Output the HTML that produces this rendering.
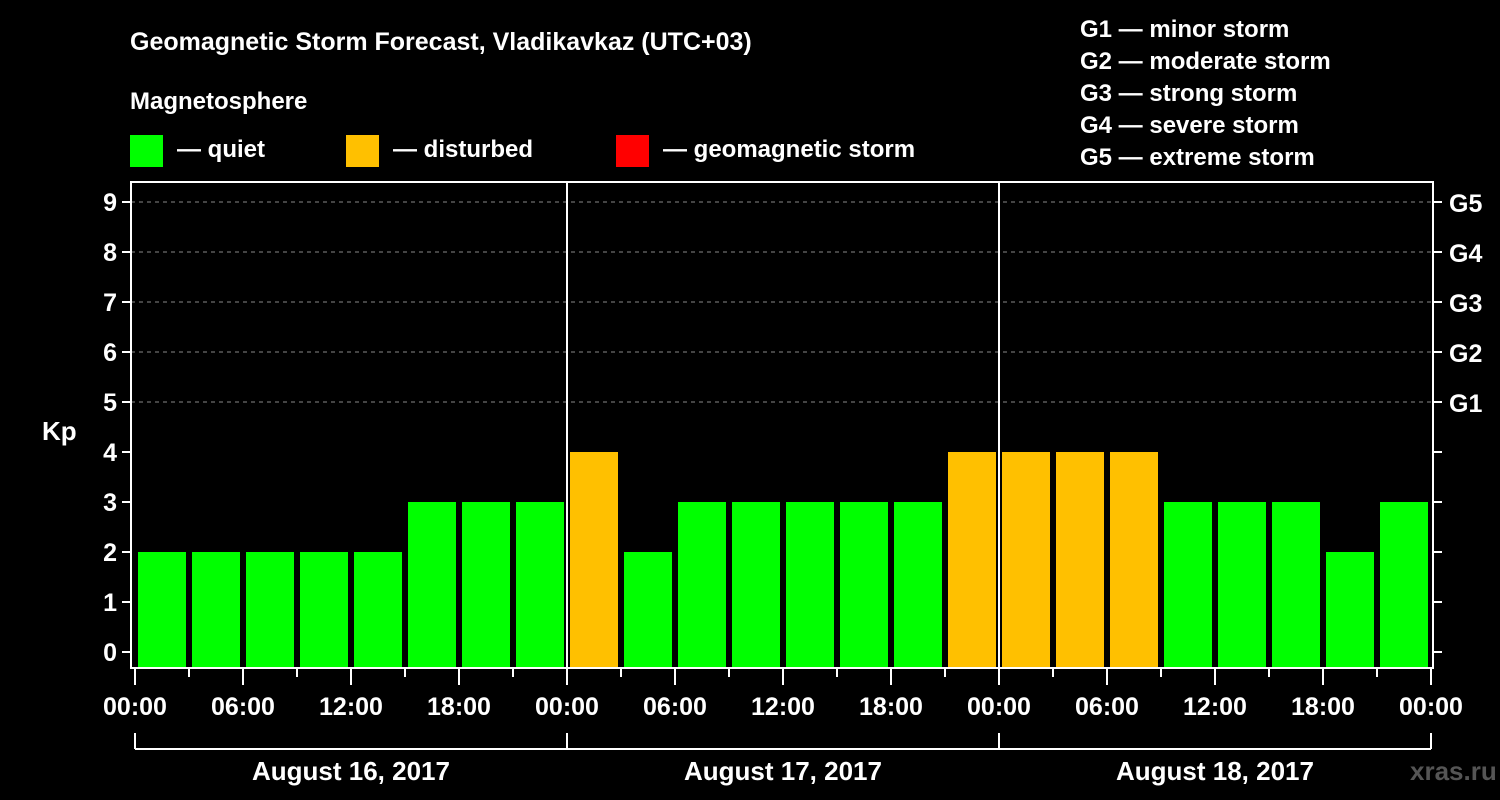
<!DOCTYPE html>
<html><head><meta charset="utf-8"><style>
html,body{margin:0;padding:0;background:#000;}
svg{display:block;font-family:"Liberation Sans",sans-serif;font-weight:bold;}
</style></head><body>
<svg id="c" width="1500" height="800" xmlns="http://www.w3.org/2000/svg">
<rect width="1500" height="800" fill="#000"/>
<text x="130" y="50" fill="#fff" font-size="25">Geomagnetic Storm Forecast, Vladikavkaz (UTC+03)</text>
<text x="130" y="109" fill="#fff" font-size="24">Magnetosphere</text>
<g><rect x="130" y="135" width="33" height="32" fill="#00ff00"/><text x="177" y="157" fill="#fff" font-size="24">— quiet</text></g>
<g><rect x="346" y="135" width="33" height="32" fill="#ffc000"/><text x="393" y="157" fill="#fff" font-size="24">— disturbed</text></g>
<g><rect x="616" y="135" width="33" height="32" fill="#ff0000"/><text x="663" y="157" fill="#fff" font-size="24">— geomagnetic storm</text></g>
<g fill="#fff" font-size="24">
<text x="1080" y="37">G1 — minor storm</text>
<text x="1080" y="69">G2 — moderate storm</text>
<text x="1080" y="101">G3 — strong storm</text>
<text x="1080" y="133">G4 — severe storm</text>
<text x="1080" y="165">G5 — extreme storm</text>
</g>
<text x="42" y="440" fill="#fff" font-size="26">Kp</text>
<text x="1410" y="780" fill="#555" font-size="26">xras.ru</text>
<g id="grid"></g><g id="bars"></g><g id="axes"></g>
</svg>
<script>
const kpValues=[2,2,2,2,2,3,3,3,4,2,3,3,3,3,3,4,4,4,4,3,3,3,2,3];
const yTicks=[0,1,2,3,4,5,6,7,8,9];
const gLabels=["G1","G2","G3","G4","G5"];
const xLabels=["00:00","06:00","12:00","18:00","00:00","06:00","12:00","18:00","00:00","06:00","12:00","18:00","00:00"];
const dayLabels=["August 16, 2017","August 17, 2017","August 18, 2017"];
const NS="http://www.w3.org/2000/svg";
const L=131,R=1433,T=182,B=668,X0=135,DX=54;
const y=v=>652-50*v;
const x=i=>X0+DX*i;
function mk(t,a,p){const e=document.createElementNS(NS,t);for(const k in a)e.setAttribute(k,a[k]);p.appendChild(e);return e;}
const grid=document.getElementById('grid'),bars=document.getElementById('bars'),axes=document.getElementById('axes');
yTicks.forEach(v=>{
  if(v>=5){const l=mk('line',{x1:L,x2:R,y1:y(v),y2:y(v),stroke:'#888','stroke-dasharray':'4,4','stroke-width':1},grid);
  
  }
  mk('line',{x1:L-9,x2:L,y1:y(v),y2:y(v),stroke:'#fff','stroke-width':2},axes);
  mk('line',{x1:R,x2:R+9,y1:y(v),y2:y(v),stroke:'#fff','stroke-width':2},axes);
  const t=mk('text',{x:L-14,y:y(v)+9,fill:'#fff','font-size':25,'text-anchor':'end'},axes);t.textContent=v;
  
  
});
gLabels.forEach((g,i)=>{const t=mk('text',{x:R+16,y:y(5+i)+10,fill:'#fff','font-size':25},axes);t.textContent=g;
  
  });
kpValues.forEach((v,i)=>{
  const c=v>=5?'#ff0000':(v>=4?'#ffc000':'#00ff00');
  const r=mk('rect',{x:x(i)+3,y:y(v),width:48,height:667-y(v),fill:c},bars);
  
  
});
mk('rect',{x:L,y:T,width:R-L,height:B-T,fill:'none',stroke:'#fff','stroke-width':2},axes);
[8,16].forEach(i=>mk('line',{x1:x(i),x2:x(i),y1:T,y2:B,stroke:'#fff','stroke-width':2},axes));
for(let i=0;i<=24;i++){mk('line',{x1:x(i),x2:x(i),y1:B,y2:i%2==0?685:677,stroke:'#fff','stroke-width':2},axes);}
xLabels.forEach((s,j)=>{const t=mk('text',{x:x(2*j),y:715,fill:'#fff','font-size':25,'text-anchor':'middle'},axes);t.textContent=s;
  
  });
mk('line',{x1:x(0),x2:x(24),y1:749,y2:749,stroke:'#fff','stroke-width':2},axes);
[0,8,16,24].forEach(i=>mk('line',{x1:x(i),x2:x(i),y1:733,y2:749,stroke:'#fff','stroke-width':2},axes));
dayLabels.forEach((s,d)=>{const t=mk('text',{x:(x(8*d)+x(8*d+8))/2,y:780,fill:'#fff','font-size':26,'text-anchor':'middle'},axes);t.textContent=s;
  
  });
</script>
</body></html>
